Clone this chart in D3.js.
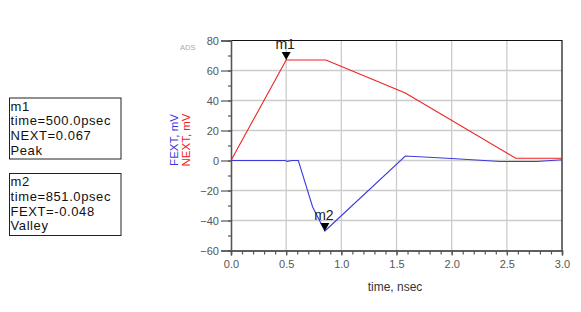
<!DOCTYPE html>
<html>
<head>
<meta charset="utf-8">
<script src="https://cdn.jsdelivr.net/npm/d3@7"></script>
<style>
  body { margin: 0; background: #fff; }
  svg { display: block; font-family: Arial, "Liberation Sans", sans-serif; }
</style>
</head>
<body>
<svg id="chart" width="581" height="312"></svg>
<script>
// NEXT trace (mV) vs time (nsec)
const nextTime = [0, 0.5, 0.86, 1.58, 2.58, 3.0];
const nextMv = [0, 67, 67, 45, 1.5, 1.5];
// FEXT trace (mV) vs time (nsec)
const fextTime = [0, 0.49, 0.51, 0.55, 0.61, 0.74, 0.851, 1.58, 2.0, 2.44, 2.77, 3.0];
const fextMv = [0, 0, -0.6, 0, 0, -31, -47, 3, 1.3, -0.7, -0.7, 0.5];
// axis ticks
const xTicks = [0, 0.5, 1.0, 1.5, 2.0, 2.5, 3.0];
const yTicks = [-60, -40, -20, 0, 20, 40, 60, 80];
// markers
const markers = [
  { name: 'm1', t: 0.5, v: 67, lines: ['m1', 'time=500.0psec', 'NEXT=0.067', 'Peak'] },
  { name: 'm2', t: 0.851, v: -47, lines: ['m2', 'time=851.0psec', 'FEXT=-0.048', 'Valley'] },
];

const svg = d3.select('#chart');
const cs = {
  left: 231, right: 562, top: 40.5, bottom: 250.5,
  red: '#ee2222', blue: '#3b3bdd', grid: '#cccccc', axis: '#555',
};

const x = d3.scaleLinear().domain([0, 3]).range([cs.left, cs.right]);
const y = d3.scaleLinear().domain([-60, 80]).range([cs.bottom, cs.top]);

// grid
const grid = svg.append('g');
grid.selectAll('line.gx').data(xTicks.slice(1, -1)).enter().append('line')
  .attr('x1', d => x(d)).attr('x2', d => x(d))
  .attr('y1', cs.top).attr('y2', cs.bottom)
  .attr('stroke', cs.grid).attr('stroke-width', 1.3);
grid.selectAll('line.gy').data(yTicks.slice(1, -1)).enter().append('line')
  .attr('x1', cs.left).attr('x2', cs.right)
  .attr('y1', d => y(d)).attr('y2', d => y(d))
  .attr('stroke', cs.grid).attr('stroke-width', 1.3);

// frame top/right
svg.append('path')
  .attr('d', `M${cs.left},${cs.top}H${cs.right}V${cs.bottom}`)
  .attr('fill', 'none').attr('stroke', '#111').attr('stroke-width', 1.2);

// axes
const yMinor = d3.range(-60, 81, 10);
const xMinor = d3.range(0, 3.01, 0.1);
const yAxisMinor = d3.axisLeft(y).tickValues(yMinor).tickSize(3).tickFormat('');
const yAxis = d3.axisLeft(y).tickValues(yTicks).tickSize(10).tickPadding(2).tickFormat(d3.format('.0f'));
const xAxisMinor = d3.axisBottom(x).tickValues(xMinor).tickSize(4).tickFormat('');
const xAxis = d3.axisBottom(x).tickValues(xTicks).tickSize(5).tickPadding(5).tickFormat(d3.format('.1f'));

function styleAxis(g) {
  g.select('.domain').attr('stroke', cs.axis).attr('stroke-width', 1.3);
  g.selectAll('.tick line').attr('stroke', cs.axis).attr('stroke-width', 1.2);
  g.selectAll('.tick text').attr('fill', '#555').attr('font-size', 11)
    .attr('font-family', 'Arial, "Liberation Sans", sans-serif');
}
svg.append('g').attr('transform', `translate(${cs.left},0)`).call(yAxisMinor).call(styleAxis);
svg.append('g').attr('transform', `translate(${cs.left},0)`).call(yAxis).call(styleAxis);
svg.append('g').attr('transform', `translate(0,${cs.bottom})`).call(xAxisMinor).call(styleAxis);
svg.append('g').attr('transform', `translate(0,${cs.bottom})`).call(xAxis).call(styleAxis);

// traces
const line = d3.line().x(d => x(d[0])).y(d => y(d[1]));
svg.append('path').datum(d3.zip(nextTime, nextMv))
  .attr('d', line).attr('fill', 'none').attr('stroke', cs.red).attr('stroke-width', 1.1);
svg.append('path').datum(d3.zip(fextTime, fextMv))
  .attr('d', line).attr('fill', 'none').attr('stroke', cs.blue).attr('stroke-width', 1.1);

// marker triangles and labels
markers.forEach(m => {
  const px = x(m.t), py = y(m.v);
  svg.append('path')
    .attr('d', `M${px - 4.5},${py - 8}L${px + 4.5},${py - 8}L${px},${py}Z`)
    .attr('fill', '#000');
  svg.append('text').attr('x', px - 1).attr('y', py - 11)
    .attr('text-anchor', 'middle').attr('font-size', 14).attr('fill', '#222')
    .text(m.name);
});

// marker readout boxes (one text per line)
const boxes = [{ top: 98, h: 61 }, { top: 173.5, h: 62 }];
markers.forEach((m, i) => {
  const b = boxes[i];
  svg.append('rect').attr('x', 9.5).attr('y', b.top).attr('width', 111.5).attr('height', b.h)
    .attr('fill', '#fff').attr('stroke', '#222').attr('stroke-width', 1);
  m.lines.forEach((s, j) => {
    svg.append('text').attr('x', 10.5).attr('y', b.top + 12.8 + j * 14.6)
      .attr('font-size', 13).attr('letter-spacing', 0.6).attr('fill', '#111').text(s);
  });
});

// axis titles
svg.append('text').attr('transform', 'translate(178,140) rotate(-90)')
  .attr('text-anchor', 'middle').attr('font-size', 11.5).attr('fill', cs.blue).text('FEXT, mV');
svg.append('text').attr('transform', 'translate(190,140) rotate(-90)')
  .attr('text-anchor', 'middle').attr('font-size', 11.5).attr('fill', cs.red).text('NEXT, mV');
svg.append('text').attr('x', 395).attr('y', 291)
  .attr('text-anchor', 'middle').attr('font-size', 12).attr('fill', '#333').text('time, nsec');
svg.append('text').attr('x', 180).attr('y', 50)
  .attr('font-size', 7.5).attr('fill', '#aaa').text('ADS');
</script>
</body>
</html>
